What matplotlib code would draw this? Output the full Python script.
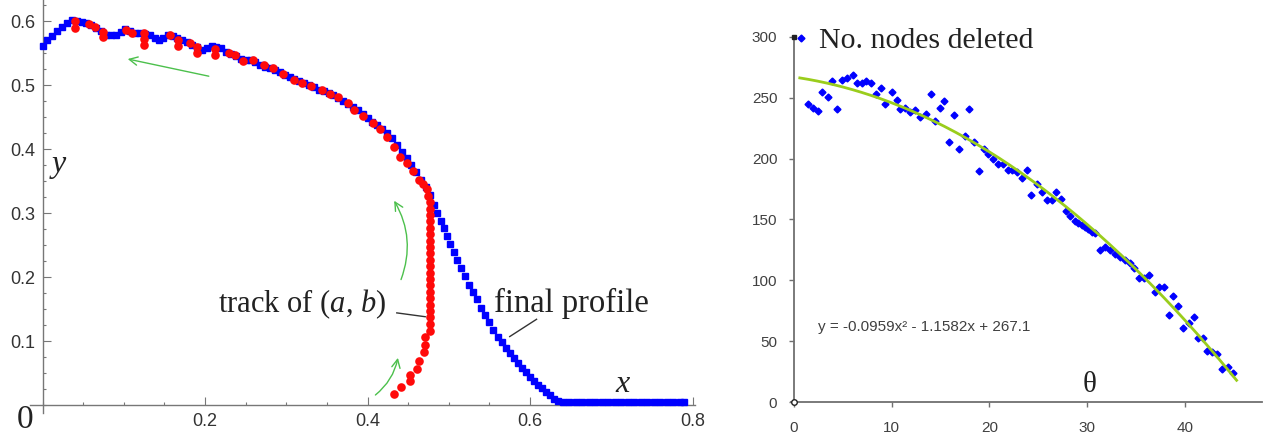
import numpy as np
import matplotlib.pyplot as plt
from matplotlib.ticker import MultipleLocator, FixedLocator
from matplotlib.patches import FancyArrowPatch

plt.rcParams['mathtext.fontset'] = 'custom'
plt.rcParams['mathtext.rm'] = 'Liberation Serif'
plt.rcParams['mathtext.it'] = 'Liberation Serif:italic'

# ---- left panel: final profile (blue squares) ----
profile_x = [0.000, 0.006, 0.012, 0.018, 0.024, 0.030, 0.036, 0.042, 0.048, 0.054,
             0.060, 0.066, 0.072, 0.078, 0.084, 0.090, 0.096, 0.102, 0.108, 0.114,
             0.120, 0.126, 0.132, 0.138, 0.143, 0.148, 0.154, 0.160, 0.166, 0.172,
             0.178, 0.184, 0.190, 0.196, 0.202, 0.208, 0.214, 0.220, 0.226, 0.232,
             0.238, 0.244, 0.250, 0.256, 0.262, 0.268, 0.274, 0.280, 0.286, 0.292,
             0.298, 0.304, 0.310, 0.316, 0.322, 0.328, 0.334, 0.340, 0.346, 0.352,
             0.358, 0.364, 0.370, 0.376, 0.382, 0.388, 0.394, 0.400, 0.406, 0.412,
             0.418, 0.424, 0.430, 0.436, 0.442, 0.448, 0.454, 0.460, 0.466, 0.472,
             0.477, 0.482, 0.486, 0.490, 0.494, 0.498, 0.502, 0.506, 0.510, 0.515,
             0.520, 0.525, 0.530, 0.535, 0.540, 0.545, 0.550, 0.555, 0.560, 0.565,
             0.570, 0.575, 0.580, 0.585, 0.590, 0.595, 0.600, 0.605, 0.610, 0.615,
             0.620, 0.625, 0.630, 0.635, 0.640, 0.648, 0.656, 0.664, 0.672, 0.680,
             0.688, 0.696, 0.704, 0.712, 0.720, 0.728, 0.736, 0.744, 0.752, 0.760,
             0.768, 0.776, 0.784, 0.790]
profile_y = [0.561, 0.570, 0.577, 0.584, 0.591, 0.597, 0.601, 0.600, 0.598, 0.597,
             0.594, 0.590, 0.584, 0.579, 0.578, 0.578, 0.583, 0.587, 0.584, 0.581,
             0.581, 0.580, 0.578, 0.574, 0.570, 0.574, 0.578, 0.576, 0.573, 0.570,
             0.567, 0.563, 0.559, 0.555, 0.558, 0.561, 0.560, 0.558, 0.551, 0.548,
             0.545, 0.541, 0.539, 0.539, 0.536, 0.532, 0.529, 0.526, 0.523, 0.520,
             0.516, 0.512, 0.509, 0.506, 0.503, 0.500, 0.497, 0.493, 0.490, 0.487,
             0.484, 0.480, 0.475, 0.471, 0.466, 0.461, 0.455, 0.449, 0.443, 0.437,
             0.431, 0.425, 0.418, 0.407, 0.396, 0.386, 0.375, 0.364, 0.352, 0.340,
             0.328, 0.312, 0.300, 0.288, 0.277, 0.264, 0.252, 0.239, 0.227, 0.214,
             0.201, 0.188, 0.176, 0.165, 0.152, 0.140, 0.129, 0.118, 0.107, 0.098,
             0.089, 0.081, 0.073, 0.065, 0.058, 0.051, 0.044, 0.038, 0.032, 0.026,
             0.021, 0.015, 0.010, 0.006, 0.005, 0.005, 0.005, 0.005, 0.005, 0.005,
             0.005, 0.005, 0.005, 0.005, 0.005, 0.005, 0.005, 0.005, 0.005, 0.005,
             0.005, 0.005, 0.005, 0.005]

# ---- left panel: track of (a, b) (red dots) ----
track_x = [0.432, 0.441, 0.452, 0.452, 0.461, 0.463, 0.470, 0.471, 0.471, 0.477,
           0.477, 0.477, 0.477, 0.477, 0.477, 0.477, 0.477, 0.477, 0.477, 0.477,
           0.477, 0.477, 0.477, 0.477, 0.477, 0.477, 0.477, 0.477, 0.477, 0.477,
           0.475, 0.473, 0.468, 0.463, 0.456, 0.448, 0.440, 0.432, 0.424, 0.415,
           0.407, 0.395, 0.383, 0.376, 0.364, 0.354, 0.344, 0.331, 0.319, 0.309,
           0.296, 0.284, 0.272, 0.259, 0.247, 0.237, 0.229, 0.212, 0.212, 0.190,
           0.190, 0.181, 0.167, 0.167, 0.157, 0.125, 0.125, 0.125, 0.110, 0.103,
           0.074, 0.074, 0.065, 0.057, 0.040, 0.040]
track_y = [0.018, 0.028, 0.037, 0.047, 0.057, 0.069, 0.083, 0.094, 0.106, 0.115,
           0.127, 0.137, 0.147, 0.157, 0.167, 0.177, 0.187, 0.197, 0.207, 0.217,
           0.227, 0.237, 0.247, 0.257, 0.267, 0.277, 0.287, 0.297, 0.307, 0.317,
           0.327, 0.337, 0.345, 0.352, 0.365, 0.378, 0.388, 0.404, 0.419, 0.432,
           0.441, 0.452, 0.461, 0.472, 0.482, 0.486, 0.492, 0.498, 0.504, 0.508,
           0.518, 0.526, 0.531, 0.539, 0.538, 0.547, 0.550, 0.547, 0.556, 0.550,
           0.560, 0.566, 0.561, 0.570, 0.578, 0.5625, 0.572, 0.581, 0.581, 0.586,
           0.5755, 0.583, 0.591, 0.595, 0.589, 0.600]

# ---- right panel: nodes deleted vs theta ----
theta = [1.4, 2.0, 2.5, 2.9, 3.45, 3.9, 4.4, 4.9, 5.4, 6.0,
         6.5, 7.0, 7.4, 7.9, 8.4, 8.9, 9.35, 10.0, 10.5, 10.9,
         11.4, 11.9, 12.4, 12.9, 13.5, 14.0, 14.4, 14.9, 15.4, 15.9,
         16.4, 16.9, 17.5, 17.9, 18.45, 18.9, 19.4, 19.9, 20.4, 20.9,
         21.4, 21.9, 22.3, 22.8, 23.3, 23.85, 24.3, 24.9, 25.4, 25.9,
         26.4, 26.85, 27.35, 27.8, 28.3, 28.8, 29.1, 29.45, 29.8, 30.1,
         30.5, 30.8, 31.3, 31.8, 32.3, 32.9, 33.4, 33.9, 34.4, 34.8,
         35.3, 35.8, 36.3, 36.9, 37.4, 37.85, 38.4, 38.8, 39.3, 39.85,
         40.4, 40.9, 41.4, 41.9, 42.3, 42.8, 43.3, 43.8, 44.4, 44.9]
nodes_deleted = [245, 242, 239, 254.5, 251, 264, 241, 265, 266.5, 268.5,
                 262, 262, 264, 262, 253, 258, 245, 255, 248, 241,
                 242, 238, 240, 234, 237, 253, 231, 242, 247, 214,
                 236, 208, 219, 241, 214, 190, 208, 204, 200, 196,
                 196, 190.5, 190.5, 189, 184.5, 191, 170, 179, 172.5, 166,
                 166, 173, 166.5, 157, 153, 149, 147, 145.5, 143.5, 142,
                 140, 138.5, 125, 127.5, 125, 122, 119.5, 116.5, 114, 110,
                 102, 102, 104, 90.5, 94.5, 94.5, 71.5, 87, 79, 61,
                 65, 70, 53, 53, 42, 41, 39.5, 27, 29, 24]
fit_coeffs = [-0.0959, -1.1582, 267.1]
fit_range = [0.6, 45.3]

W, H = 1263, 436
fig = plt.figure(figsize=(W / 100, H / 100), dpi=100)
serif = 'Liberation Serif'

# ================= left panel =================
axL = fig.add_axes([30 / W, (H - 412.7) / H, 665 / W, 412.7 / H])
axL.set_xlim(-0.0154, 0.803)
axL.set_ylim(-0.012, 0.633)
axL.plot(profile_x, profile_y, ls='none', marker='s', ms=4.8, color='#0000ff',
         mec='#0000ff', clip_on=False, zorder=3)
axL.plot(track_x, track_y, ls='none', marker='o', ms=6.2, color='#ff0a0a',
         mec='none', clip_on=False, zorder=4)

for s in ['top', 'right']:
    axL.spines[s].set_visible(False)
axL.spines['left'].set_position(('data', 0))
axL.spines['bottom'].set_position(('data', 0))
for s in ['left', 'bottom']:
    axL.spines[s].set_color('#777777')
    axL.spines[s].set_linewidth(1.0)
axL.xaxis.set_major_locator(FixedLocator([0.2, 0.4, 0.6, 0.8]))
axL.xaxis.set_minor_locator(MultipleLocator(0.05))
axL.yaxis.set_major_locator(FixedLocator([0.1, 0.2, 0.3, 0.4, 0.5, 0.6]))
axL.yaxis.set_minor_locator(MultipleLocator(0.025))
axL.tick_params(which='both', direction='in', color='#777777', width=0.8)
axL.tick_params(which='major', length=5.5)
axL.tick_params(which='minor', length=2.5)
axL.tick_params(axis='x', which='major', pad=6, labelsize=13, labelcolor='#333333')
axL.tick_params(axis='y', which='major', pad=5, labelsize=13, labelcolor='#333333')
for lab in axL.get_xticklabels() + axL.get_yticklabels():
    lab.set_family('Liberation Sans')

axL.text(0.0203, 0.364, 'y', family=serif, style='italic', fontsize=23,
         ha='center', va='baseline', color='#222222')
axL.text(0.714, 0.0208, 'x', family=serif, style='italic', fontsize=23,
         ha='center', va='baseline', color='#222222')
axL.text(-0.0317, -0.036, '0', family=serif, fontsize=24, ha='left',
         va='baseline', color='#222222')
axL.text(0.216, 0.145, r'track of ($a$, $b$)', family=serif, fontsize=22,
         ha='left', va='baseline', color='#222222')
axL.text(0.5557, 0.145, 'final profile', family=serif, fontsize=23.5, ha='left',
         va='baseline', color='#222222')

# leader lines
axL.plot([0.436, 0.471], [0.144, 0.138], color='#333333', lw=1.0)
axL.plot([0.608, 0.575], [0.134, 0.107], color='#333333', lw=1.0)

# green hand drawn arrows
green = '#4cc04c'
arrows = [((0.208, 0.513), (0.1015, 0.5417), 0.0),
          ((0.440, 0.192), (0.431, 0.323), 0.25),
          ((0.407, 0.013), (0.438, 0.078), 0.2)]
for start, end, rad in arrows:
    axL.add_patch(FancyArrowPatch(start, end, arrowstyle='->,head_length=6,head_width=3',
                                  connectionstyle='arc3,rad=%s' % rad,
                                  color=green, lw=1.0, mutation_scale=1, zorder=2))

# ================= right panel =================
axR = fig.add_axes([791 / W, (H - 402) / H, 471 / W, 365 / H])
axR.set_xlim(-0.3, 47.9)
axR.set_ylim(0, 300)

pts, = axR.plot(theta, nodes_deleted, ls='none', marker='D', ms=3.5,
                color='#0000ff', mec='#0000ff', clip_on=False, zorder=3)
fx = np.linspace(fit_range[0], fit_range[1], 200)
axR.plot(fx, np.polyval(fit_coeffs, fx), color='#9acd1c', lw=2.0, zorder=4)

for s in ['top', 'right']:
    axR.spines[s].set_visible(False)
axR.spines['left'].set_position(('data', 0))
for s in ['left', 'bottom']:
    axR.spines[s].set_color('#707070')
    axR.spines[s].set_linewidth(1.3)
axR.xaxis.set_major_locator(FixedLocator([0, 10, 20, 30, 40]))
axR.yaxis.set_major_locator(MultipleLocator(50))
axR.tick_params(direction='out', length=3.5, color='#707070', width=1.0,
                labelsize=11, labelcolor='#404040')
axR.tick_params(axis='x', pad=10)
axR.tick_params(axis='y', pad=8.5)
for lab in axR.get_xticklabels() + axR.get_yticklabels():
    lab.set_family('Liberation Sans')

# small handles at the axis ends
axR.plot([0], [300], marker='s', ms=3, color='#222222', clip_on=False, zorder=5)
axR.plot([0], [0], marker='o', ms=4, mfc='white', mec='#222222', mew=1,
         clip_on=False, zorder=5)

leg = axR.legend([pts], ['No. nodes deleted'], loc='center left',
                 bbox_to_anchor=(0.006, 0.99), frameon=False, handlelength=0.5,
                 handletextpad=0.35, borderpad=0, borderaxespad=0, numpoints=1,
                 prop={'family': serif, 'size': 21.5})
for t in leg.get_texts():
    t.set_color('#222222')

axR.text(2.45, 58.3, 'y = -0.0959x² - 1.1582x + 267.1', family='Liberation Sans',
         fontsize=11, color='#404040', ha='left', va='baseline')
axR.text(30.3, 8.2, 'θ', family=serif, fontsize=21, color='#222222',
         ha='center', va='baseline')

fig.savefig('out.png', dpi=100)
